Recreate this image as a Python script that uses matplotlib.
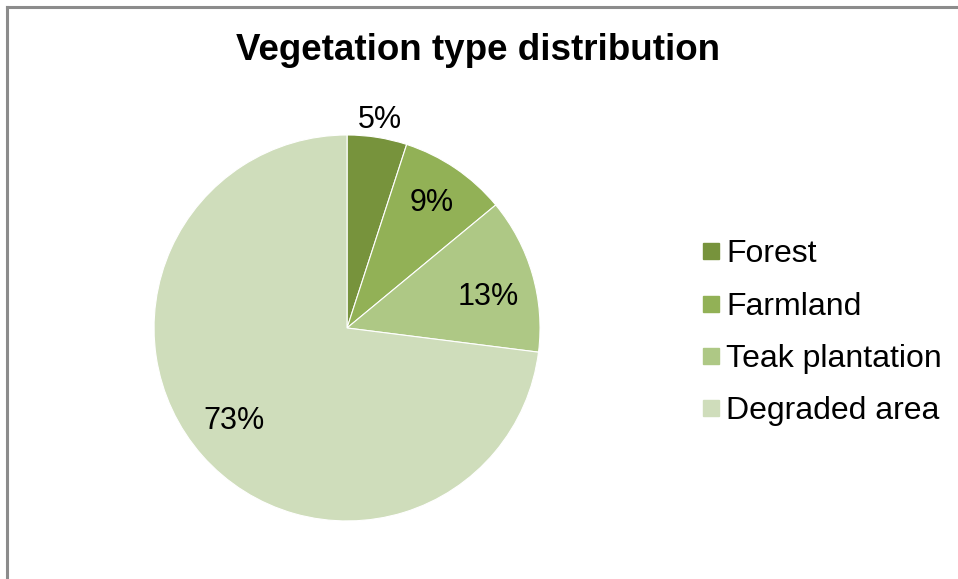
import matplotlib
matplotlib.use("Agg")
import matplotlib.pyplot as plt
import numpy as np
from matplotlib.lines import Line2D

plt.rcParams['font.family'] = ['Liberation Sans', 'DejaVu Sans']

categories = ["Forest", "Farmland", "Teak plantation", "Degraded area"]
values = [5, 9, 13, 73]
labels = ["5%", "9%", "13%", "73%"]
colors = ["#77933C", "#92B156", "#AEC885", "#CFDDBB"]

fig = plt.figure(figsize=(9.58, 5.79), dpi=100)
ax = fig.add_axes([0.1608, 0.1002, 0.4029, 0.6667])

wedges, _ = ax.pie(values, colors=colors, startangle=90, counterclock=False,
                   radius=1.0, wedgeprops=dict(linewidth=0.8, edgecolor="white"))
ax.set_xlim(-1, 1)
ax.set_ylim(-1, 1)
ax.set_aspect('equal')
ax.axis('off')

dists = [1.09, 0.78, 0.75, 0.76]
shifts = [0, 0, -4, -2]
for w, lab, d, s in zip(wedges, labels, dists, shifts):
    ang = np.deg2rad((w.theta1 + w.theta2) / 2 + s)
    ax.text(d * np.cos(ang), d * np.sin(ang), lab, ha='center', va='center',
            fontsize=22, color='black')

fig.text(0.4985, 0.913, "Vegetation type distribution", ha='center', va='center',
         fontsize=26.5, fontweight='bold')

handles = [Line2D([0], [0], marker='s', linestyle='none', markersize=11,
                  markerfacecolor=c, markeredgecolor=c) for c in colors]
fig.legend(handles, categories, loc='center left', bbox_to_anchor=(0.730, 0.425),
           frameon=False, fontsize=23, handletextpad=0.15, labelspacing=0.7,
           handlelength=0.7, borderaxespad=0, borderpad=0)

# chart frame (top and left visible)
fig.add_artist(Line2D([0.0075, 1.0], [0.9875, 0.9875], color='#8C8C8C', lw=2.2,
                      transform=fig.transFigure))
fig.add_artist(Line2D([0.0075, 0.0075], [0.0, 0.9875], color='#8C8C8C', lw=2.2,
                      transform=fig.transFigure))

fig.savefig("out.png", dpi=100)
